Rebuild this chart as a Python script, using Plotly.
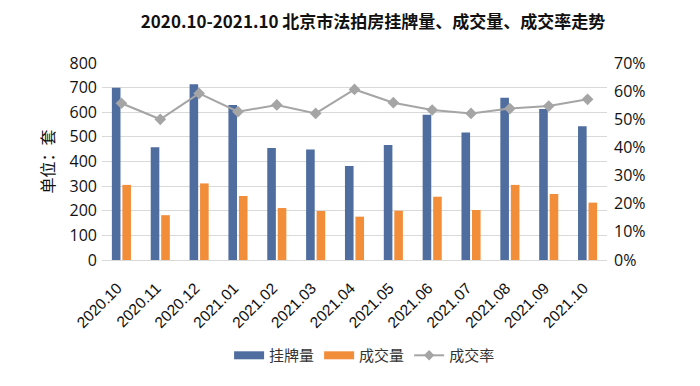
import plotly.graph_objects as go

months = ["2020.10", "2020.11", "2020.12", "2021.01", "2021.02", "2021.03", "2021.04",
          "2021.05", "2021.06", "2021.07", "2021.08", "2021.09", "2021.10"]
listed = [700, 458, 714, 629, 455, 449, 382, 467, 590, 518, 659, 613, 543]
sold = [305, 182, 311, 260, 211, 199, 176, 200, 257, 203, 305, 268, 233]
rate = [0.557, 0.500, 0.592, 0.527, 0.551, 0.521, 0.606, 0.559, 0.533, 0.521, 0.538, 0.547, 0.571]

FONT = "Open Sans, Noto Sans CJK SC, sans-serif"
CJK = "Noto Sans CJK SC, sans-serif"
BLUE = "#4f6d9f"
ORANGE = "#f28d3a"
GRAY = "#a5a5a5"

fig = go.Figure()
fig.add_trace(go.Bar(x=months, y=listed, name="挂牌量", showlegend=False,
                     marker=dict(color=BLUE, line=dict(width=0))))
fig.add_trace(go.Bar(x=months, y=sold, name="成交量", showlegend=False,
                     marker=dict(color=ORANGE, line=dict(width=0))))
fig.add_trace(go.Scatter(x=months, y=rate, name="成交率", yaxis="y2", mode="lines+markers",
                         showlegend=False,
                         line=dict(color=GRAY, width=2),
                         marker=dict(symbol="diamond", size=9, color=GRAY)))
# legend entries (wide swatches like the original)
fig.add_trace(go.Scatter(x=[months[0]], y=[None], name="挂牌量", mode="lines",
                         line=dict(color=BLUE, width=8), hoverinfo="skip"))
fig.add_trace(go.Scatter(x=[months[0]], y=[None], name="成交量", mode="lines",
                         line=dict(color=ORANGE, width=8), hoverinfo="skip"))
fig.add_trace(go.Scatter(x=[months[0]], y=[None], name="成交率", mode="lines+markers",
                         line=dict(color=GRAY, width=2),
                         marker=dict(symbol="diamond", size=8, color=GRAY), hoverinfo="skip"))

fig.update_layout(
    width=700, height=386,
    margin=dict(l=102, r=93, t=63, b=126, autoexpand=False),
    paper_bgcolor="white", plot_bgcolor="white",
    font=dict(family=FONT, size=15, color="#222"),
    title=dict(text="<b>2020.10-2021.10 北京市法拍房挂牌量、成交量、成交率走势</b>",
               x=0.533, xanchor="center", y=0.943, yanchor="middle",
               font=dict(family=CJK, size=17, color="#111")),
    barmode="group", bargap=0.46, bargroupgap=0.18,
    xaxis=dict(type="category", range=[-0.5, len(months) - 0.5],
               tickangle=-45, tickfont=dict(family="Liberation Sans, Arial, sans-serif",
                                            size=15.5, color="#111"),
               showgrid=False, showline=True, linecolor="#d9d9d9", ticks="",
               ticklabelshift=-4, ticklabelstandoff=12),
    yaxis=dict(range=[0, 800], dtick=100, showgrid=True, gridcolor="#d9d9d9", gridwidth=1,
               zeroline=False, tickfont=dict(size=16, color="#111"), ticklabelstandoff=4,
               title=dict(text="单位：套", font=dict(family=CJK, size=16, color="#111"),
                          standoff=10)),
    yaxis2=dict(range=[0, 0.7], dtick=0.1, tickformat=".0%", overlaying="y", side="right",
                showgrid=False, zeroline=False, tickfont=dict(size=16, color="#111"),
                ticklabelstandoff=6),
    legend=dict(orientation="h", x=0.52, xanchor="center", y=-0.485, yanchor="middle",
                font=dict(family=CJK, size=15, color="#333"),
                itemwidth=30, tracegroupgap=0),
)

fig.write_html("out.html", post_script="document.body.style.margin='0';",
               config={"displayModeBar": False})
